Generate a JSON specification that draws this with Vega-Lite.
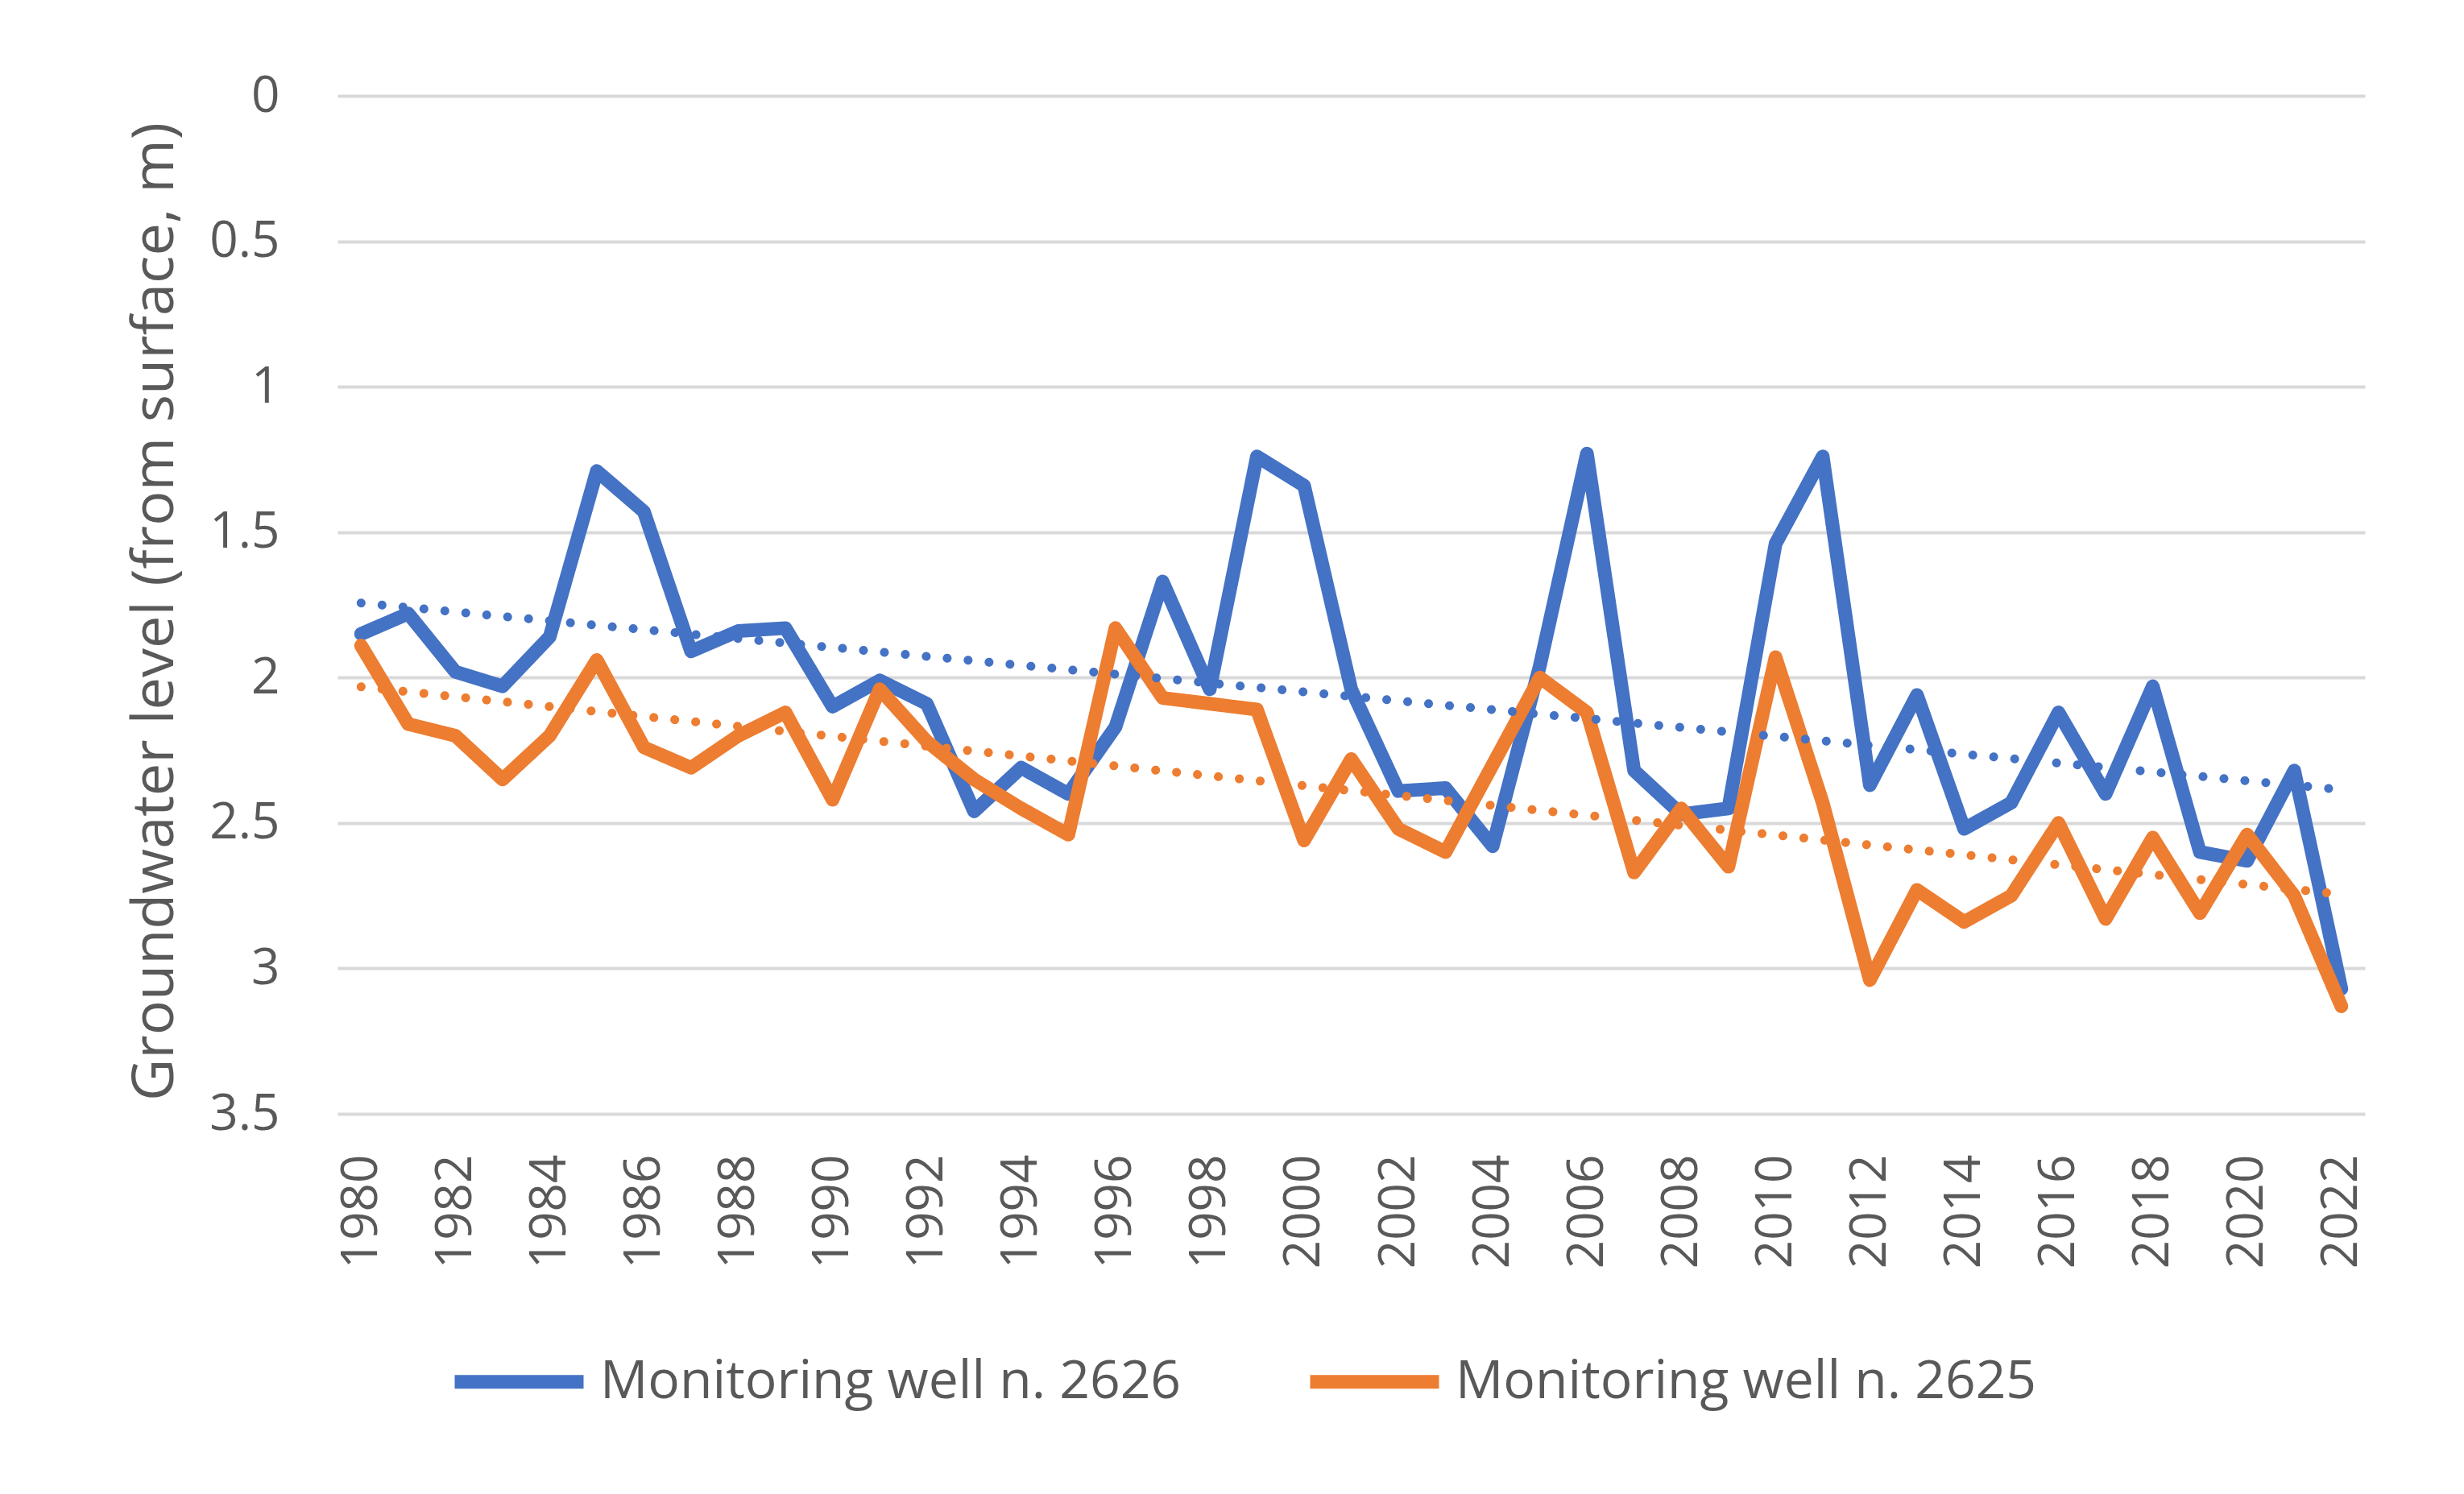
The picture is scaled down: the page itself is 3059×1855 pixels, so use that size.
{
  "$schema": "https://vega.github.io/schema/vega-lite/v6.json",
  "width": 2517,
  "height": 1264,
  "autosize": {"type": "none"},
  "padding": {"left": 419, "top": 119, "right": 123, "bottom": 472},
  "background": "white",
  "config": {"view": {"stroke": null}, "font": "Open Sans"},
  "data": {
    "values": [
      {"year": 1980, "well": "Monitoring well n. 2626", "depth": 1.85},
      {"year": 1981, "well": "Monitoring well n. 2626", "depth": 1.78},
      {"year": 1982, "well": "Monitoring well n. 2626", "depth": 1.98},
      {"year": 1983, "well": "Monitoring well n. 2626", "depth": 2.03},
      {"year": 1984, "well": "Monitoring well n. 2626", "depth": 1.86},
      {"year": 1985, "well": "Monitoring well n. 2626", "depth": 1.29},
      {"year": 1986, "well": "Monitoring well n. 2626", "depth": 1.43},
      {"year": 1987, "well": "Monitoring well n. 2626", "depth": 1.91},
      {"year": 1988, "well": "Monitoring well n. 2626", "depth": 1.84},
      {"year": 1989, "well": "Monitoring well n. 2626", "depth": 1.83},
      {"year": 1990, "well": "Monitoring well n. 2626", "depth": 2.10},
      {"year": 1991, "well": "Monitoring well n. 2626", "depth": 2.01},
      {"year": 1992, "well": "Monitoring well n. 2626", "depth": 2.09},
      {"year": 1993, "well": "Monitoring well n. 2626", "depth": 2.46},
      {"year": 1994, "well": "Monitoring well n. 2626", "depth": 2.31},
      {"year": 1995, "well": "Monitoring well n. 2626", "depth": 2.40},
      {"year": 1996, "well": "Monitoring well n. 2626", "depth": 2.17},
      {"year": 1997, "well": "Monitoring well n. 2626", "depth": 1.67},
      {"year": 1998, "well": "Monitoring well n. 2626", "depth": 2.04},
      {"year": 1999, "well": "Monitoring well n. 2626", "depth": 1.24},
      {"year": 2000, "well": "Monitoring well n. 2626", "depth": 1.34},
      {"year": 2001, "well": "Monitoring well n. 2626", "depth": 2.04},
      {"year": 2002, "well": "Monitoring well n. 2626", "depth": 2.39},
      {"year": 2003, "well": "Monitoring well n. 2626", "depth": 2.38},
      {"year": 2004, "well": "Monitoring well n. 2626", "depth": 2.58},
      {"year": 2005, "well": "Monitoring well n. 2626", "depth": 1.96},
      {"year": 2006, "well": "Monitoring well n. 2626", "depth": 1.23},
      {"year": 2007, "well": "Monitoring well n. 2626", "depth": 2.32},
      {"year": 2008, "well": "Monitoring well n. 2626", "depth": 2.47},
      {"year": 2009, "well": "Monitoring well n. 2626", "depth": 2.45},
      {"year": 2010, "well": "Monitoring well n. 2626", "depth": 1.54},
      {"year": 2011, "well": "Monitoring well n. 2626", "depth": 1.24},
      {"year": 2012, "well": "Monitoring well n. 2626", "depth": 2.37},
      {"year": 2013, "well": "Monitoring well n. 2626", "depth": 2.06},
      {"year": 2014, "well": "Monitoring well n. 2626", "depth": 2.52},
      {"year": 2015, "well": "Monitoring well n. 2626", "depth": 2.43},
      {"year": 2016, "well": "Monitoring well n. 2626", "depth": 2.12},
      {"year": 2017, "well": "Monitoring well n. 2626", "depth": 2.40},
      {"year": 2018, "well": "Monitoring well n. 2626", "depth": 2.03},
      {"year": 2019, "well": "Monitoring well n. 2626", "depth": 2.60},
      {"year": 2020, "well": "Monitoring well n. 2626", "depth": 2.63},
      {"year": 2021, "well": "Monitoring well n. 2626", "depth": 2.32},
      {"year": 2022, "well": "Monitoring well n. 2626", "depth": 3.07},
      {"year": 1980, "well": "Monitoring well n. 2625", "depth": 1.89},
      {"year": 1981, "well": "Monitoring well n. 2625", "depth": 2.16},
      {"year": 1982, "well": "Monitoring well n. 2625", "depth": 2.20},
      {"year": 1983, "well": "Monitoring well n. 2625", "depth": 2.35},
      {"year": 1984, "well": "Monitoring well n. 2625", "depth": 2.20},
      {"year": 1985, "well": "Monitoring well n. 2625", "depth": 1.94},
      {"year": 1986, "well": "Monitoring well n. 2625", "depth": 2.24},
      {"year": 1987, "well": "Monitoring well n. 2625", "depth": 2.31},
      {"year": 1988, "well": "Monitoring well n. 2625", "depth": 2.20},
      {"year": 1989, "well": "Monitoring well n. 2625", "depth": 2.12},
      {"year": 1990, "well": "Monitoring well n. 2625", "depth": 2.42},
      {"year": 1991, "well": "Monitoring well n. 2625", "depth": 2.04},
      {"year": 1992, "well": "Monitoring well n. 2625", "depth": 2.22},
      {"year": 1993, "well": "Monitoring well n. 2625", "depth": 2.35},
      {"year": 1994, "well": "Monitoring well n. 2625", "depth": 2.45},
      {"year": 1995, "well": "Monitoring well n. 2625", "depth": 2.54},
      {"year": 1996, "well": "Monitoring well n. 2625", "depth": 1.83},
      {"year": 1997, "well": "Monitoring well n. 2625", "depth": 2.07},
      {"year": 1998, "well": "Monitoring well n. 2625", "depth": 2.09},
      {"year": 1999, "well": "Monitoring well n. 2625", "depth": 2.11},
      {"year": 2000, "well": "Monitoring well n. 2625", "depth": 2.56},
      {"year": 2001, "well": "Monitoring well n. 2625", "depth": 2.28},
      {"year": 2002, "well": "Monitoring well n. 2625", "depth": 2.52},
      {"year": 2003, "well": "Monitoring well n. 2625", "depth": 2.60},
      {"year": 2004, "well": "Monitoring well n. 2625", "depth": 2.30},
      {"year": 2005, "well": "Monitoring well n. 2625", "depth": 2.00},
      {"year": 2006, "well": "Monitoring well n. 2625", "depth": 2.12},
      {"year": 2007, "well": "Monitoring well n. 2625", "depth": 2.67},
      {"year": 2008, "well": "Monitoring well n. 2625", "depth": 2.45},
      {"year": 2009, "well": "Monitoring well n. 2625", "depth": 2.65},
      {"year": 2010, "well": "Monitoring well n. 2625", "depth": 1.93},
      {"year": 2011, "well": "Monitoring well n. 2625", "depth": 2.43},
      {"year": 2012, "well": "Monitoring well n. 2625", "depth": 3.04},
      {"year": 2013, "well": "Monitoring well n. 2625", "depth": 2.73},
      {"year": 2014, "well": "Monitoring well n. 2625", "depth": 2.84},
      {"year": 2015, "well": "Monitoring well n. 2625", "depth": 2.75},
      {"year": 2016, "well": "Monitoring well n. 2625", "depth": 2.50},
      {"year": 2017, "well": "Monitoring well n. 2625", "depth": 2.83},
      {"year": 2018, "well": "Monitoring well n. 2625", "depth": 2.55},
      {"year": 2019, "well": "Monitoring well n. 2625", "depth": 2.81},
      {"year": 2020, "well": "Monitoring well n. 2625", "depth": 2.54},
      {"year": 2021, "well": "Monitoring well n. 2625", "depth": 2.75},
      {"year": 2022, "well": "Monitoring well n. 2625", "depth": 3.13}
    ]
  },
  "encoding": {
    "x": {
      "field": "year",
      "type": "quantitative",
      "scale": {"domain": [1979.5, 2022.5], "nice": false, "zero": false},
      "axis": {
        "title": null,
        "values": [1980, 1982, 1984, 1986, 1988, 1990, 1992, 1994, 1996, 1998, 2000, 2002, 2004, 2006, 2008, 2010, 2012, 2014, 2016, 2018, 2020, 2022],
        "format": "d",
        "labelAngle": -90,
        "labelFontSize": 62,
        "labelColor": "#595959",
        "labelPadding": 50,
        "labelFlush": false,
        "labelOverlap": false,
        "ticks": false,
        "domain": false,
        "grid": false
      }
    },
    "y": {
      "field": "depth",
      "type": "quantitative",
      "scale": {"domain": [0, 3.5], "reverse": true, "nice": false, "zero": false},
      "axis": {
        "title": "Groundwater level (from surface, m)",
        "titleFontSize": 72,
        "titleFontWeight": "normal",
        "titleColor": "#595959",
        "titleX": -227,
        "titleY": 640,
        "titleBaseline": "middle",
        "values": [0, 0.5, 1, 1.5, 2, 2.5, 3, 3.5],
        "format": "~g",
        "labelFontSize": 62,
        "labelColor": "#595959",
        "labelPadding": 72,
        "ticks": false,
        "domain": false,
        "grid": true,
        "gridColor": "#D9D9D9",
        "gridWidth": 4
      }
    },
    "color": {
      "field": "well",
      "type": "nominal",
      "scale": {"domain": ["Monitoring well n. 2626", "Monitoring well n. 2625"], "range": ["#4472C4", "#ED7D31"]},
      "legend": {
        "title": null,
        "orient": "none",
        "legendX": 137,
        "legendY": 1508,
        "direction": "horizontal",
        "symbolType": "stroke",
        "symbolStrokeWidth": 17,
        "symbolSize": 25600,
        "symbolDash": [1, 0],
        "labelFontSize": 66,
        "labelColor": "#595959",
        "labelOffset": 12,
        "labelLimit": 0,
        "columnPadding": 125
      }
    }
  },
  "layer": [
    {"mark": {"type": "line", "strokeWidth": 17, "strokeJoin": "round", "strokeCap": "round"}},
    {
      "transform": [{"regression": "depth", "on": "year", "groupby": ["well"]}],
      "mark": {"type": "line", "strokeWidth": 11, "strokeDash": [0.1, 26], "strokeCap": "round"}
    }
  ]
}
